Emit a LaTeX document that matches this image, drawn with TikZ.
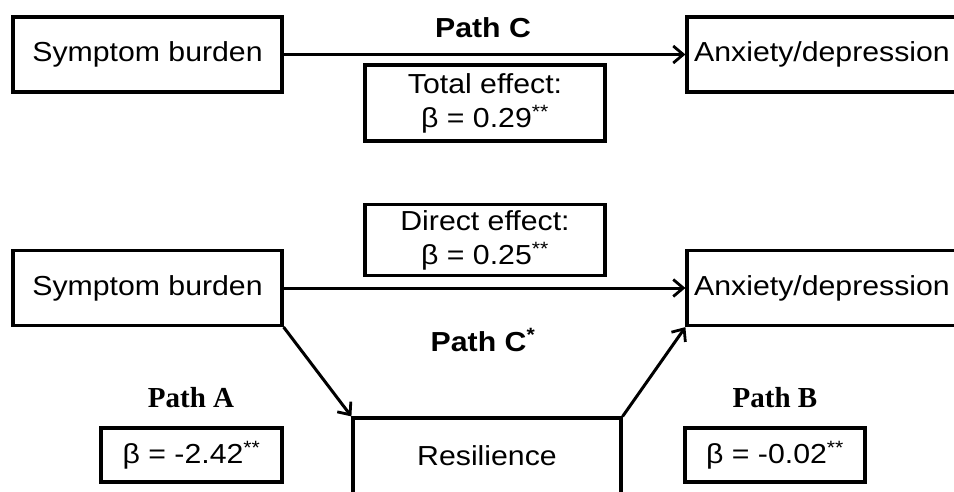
\documentclass[tikz,border=0pt]{standalone}
\usepackage{fontspec}
\setmainfont{Liberation Sans}[FakeStretch=1.1]
\newfontfamily\serifbold{Liberation Serif}
\usetikzlibrary{arrows.meta}
\tikzset{
  box/.style={draw, line width=3.2pt, rectangle, inner sep=0pt, align=center,
    font=\fontsize{27.5}{34}\selectfont},
  mainbox/.style={box, minimum height=75pt},
  conn/.style={line width=3pt, -{Straight Barb[length=10pt,width=17pt,line width=2.8pt]}},
  plabel/.style={font=\fontsize{27.5}{34}\selectfont\bfseries},
  slabel/.style={font=\fontsize{29}{34}\selectfont\serifbold\bfseries},
}
\newcommand{\sig}{\textsuperscript{**}}
\begin{document}
\begin{tikzpicture}[x=1pt,y=-1pt]
\useasboundingbox (0,0) rectangle (954,491);
% top panel
\node[mainbox, minimum width=269pt] (sb1) at (147.5,54.5) {Symptom burden};
\node[mainbox, minimum width=270pt] (ad1) at (822,54.5) {Anxiety/depression};
\draw[conn] (sb1.east) -- (ad1.west);
\node[plabel] (pc) at (483,28) {Path C};
\node[box, minimum width=240pt, minimum height=76pt] (tot) at (485,103) {Total effect:\\ β = 0.29\sig};
% bottom panel
\node[box, minimum width=240pt, minimum height=71pt] (dir) at (485,240) {Direct effect:\\ β = 0.25\sig};
\node[mainbox, minimum width=269pt] (sb2) at (147.5,288) {Symptom burden};
\node[mainbox, minimum width=270pt] (ad2) at (822,288) {Anxiety/depression};
\draw[conn] (sb2.east) -- (ad2.west);
\node[plabel] (pcs) at (483,340) {Path C\textsuperscript{*}};
\node[mainbox, minimum width=268pt, minimum height=76pt] (res) at (487,456) {Resilience};
\draw[conn] (sb2.south east) -- (res.north west);
\draw[conn] (res.north east) -- (ad2.south west);
\node[slabel] (pa) at (191,398) {Path A};
\node[slabel] (pb) at (775,398) {Path B};
\node[box, minimum width=181pt, minimum height=54pt] (ba) at (191.5,455) {β = -2.42\sig};
\node[box, minimum width=180pt, minimum height=54pt] (bb) at (775,455) {β = -0.02\sig};
\end{tikzpicture}
\end{document}
